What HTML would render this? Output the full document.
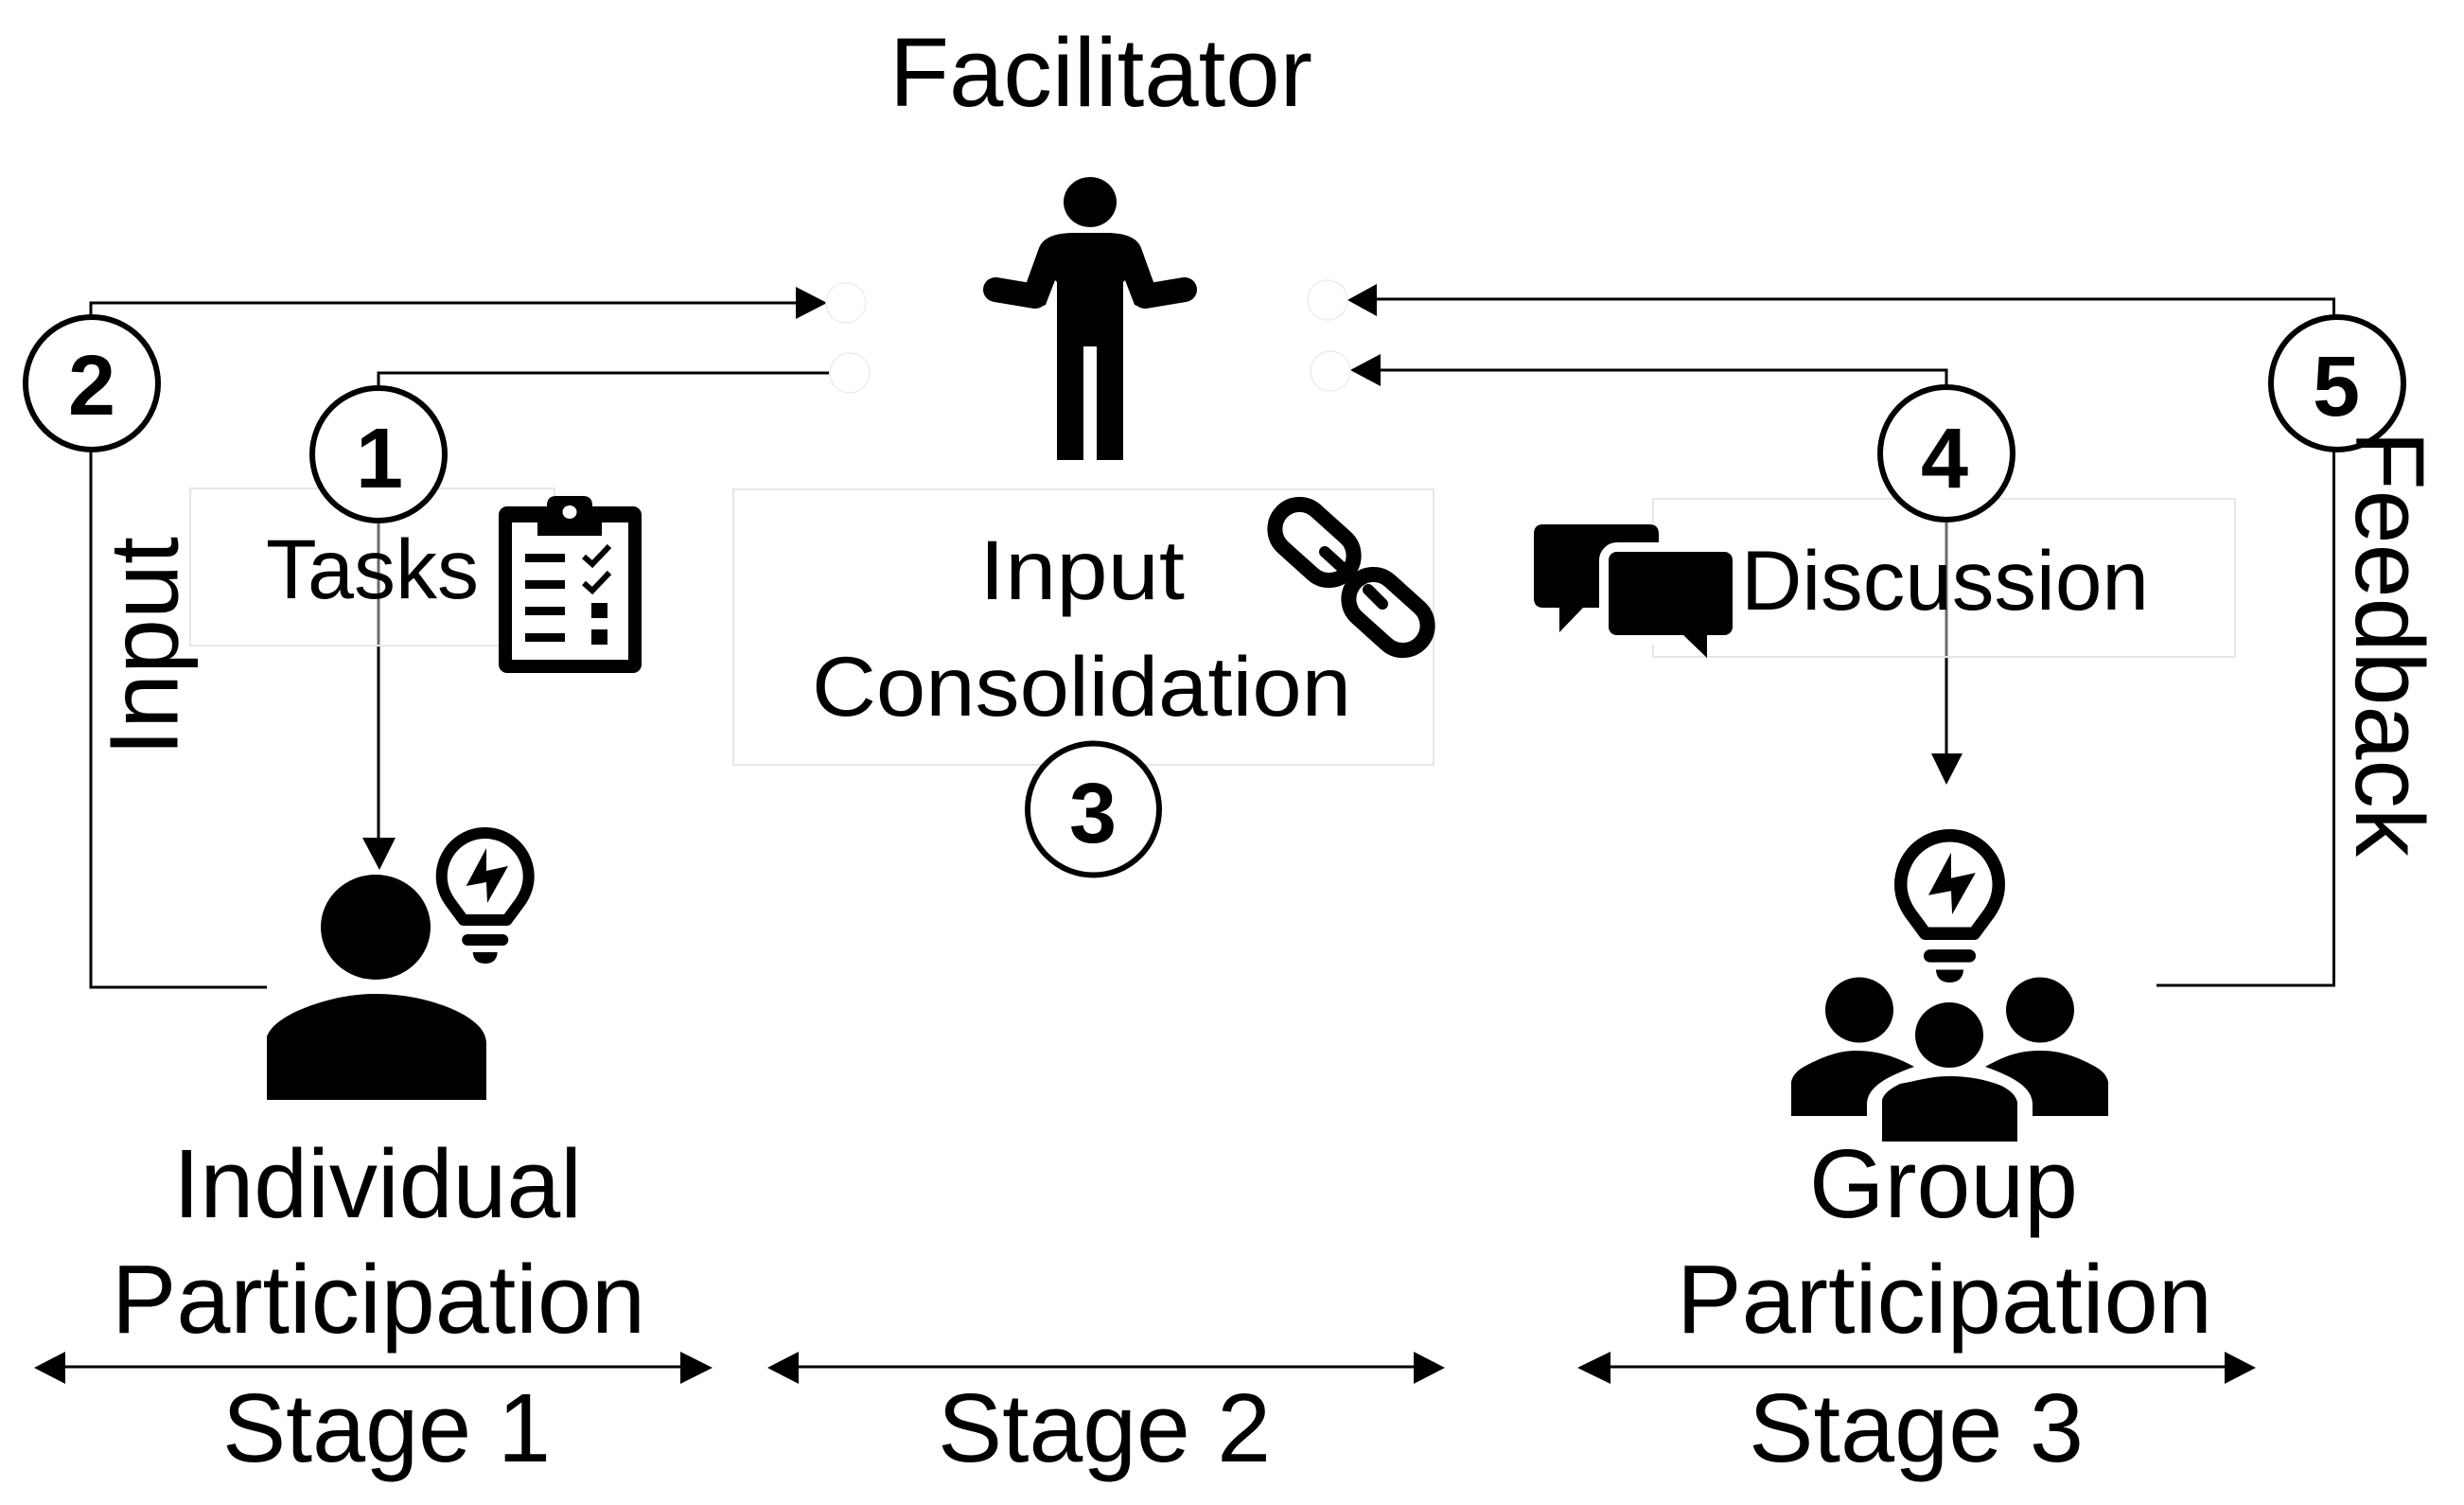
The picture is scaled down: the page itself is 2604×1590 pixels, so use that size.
<!DOCTYPE html>
<html>
<head>
<meta charset="utf-8">
<style>
html,body{margin:0;padding:0;background:#fff;width:2604px;height:1590px;overflow:hidden}
svg{display:block}
text{font-family:"Liberation Sans",sans-serif;fill:#000}
</style>
</head>
<body>
<svg width="2604" height="1590" viewBox="0 0 2604 1590" xmlns="http://www.w3.org/2000/svg">
<defs>
<g id="bulb">
<path d="M-23 46 L-37 27 Q-46 14 -46 0 A46 46 0 1 1 46 0 Q46 14 37 27 L23 46 Z" fill="none" stroke="#000" stroke-width="12" stroke-linejoin="round"/>
<rect x="-24.5" y="61" width="49" height="12" rx="6" fill="#000"/>
<path d="M-13 80 H13 Q12 92 0 92 Q-12 92 -13 80 Z" fill="#000"/>
<path d="M1.3 -30 L-20 10 L1.3 6 L2.3 28 L24.3 -11 L1.3 -6 Z" fill="#000"/>
</g>
</defs>

<!-- connectors -->
<g fill="none" stroke="#000" stroke-width="3">
<path d="M282 1043 H96 V320 H845"/>
<path d="M876 394 H400 V890"/>
<path d="M2279 1041 H2466.5 V316 H1450"/>
<path d="M1455 391 H2057 V800"/>
<path d="M60 1444 H730"/>
<path d="M835 1444 H1500"/>
<path d="M1695 1444 H2360"/>
</g>

<!-- light boxes -->
<g fill="#fff" fill-opacity="0.42" stroke="#e6e6e6" stroke-width="2">
<rect x="201" y="516" width="385" height="166"/>
<rect x="775" y="517" width="740" height="291"/>
<rect x="1747" y="527" width="615" height="167"/>
</g>

<!-- arrowheads -->
<g fill="#000">
<polygon points="841,303 874,320 841,337"/>
<polygon points="1424,317 1455,300 1455,334"/>
<polygon points="1427,391 1459,374 1459,408"/>
<polygon points="383,885 418,885 401,919"/>
<polygon points="2041,796 2074,796 2057,829"/>
<polygon points="36,1445 69,1428 69,1462"/>
<polygon points="753,1445 719,1428 719,1462"/>
<polygon points="811,1445 844,1428 844,1462"/>
<polygon points="1527,1445 1494,1428 1494,1462"/>
<polygon points="1667,1445 1702,1428 1702,1462"/>
<polygon points="2384,1445 2351,1428 2351,1462"/>
</g>

<!-- small faint circles -->
<g fill="#fff" stroke="#ececec" stroke-width="1.5">
<circle cx="894" cy="320" r="21"/>
<circle cx="898" cy="394" r="21"/>
<circle cx="1403" cy="317" r="21"/>
<circle cx="1406" cy="392" r="21"/>
</g>

<!-- facilitator figure -->
<g fill="#000">
<ellipse cx="1152" cy="213.5" rx="28" ry="26.5"/>
<path d="M1098 262 Q1104 246 1135 246 H1169 Q1200 246 1206 262 L1219 298 L1206 325 L1199 322 L1189 296 L1187 298 V486 H1159 V366 H1145 V486 H1117 V298 L1115 296 L1105 322 L1098 325 L1085 298 Z"/>
<path d="M1052 306 L1094 313" stroke="#000" stroke-width="26" stroke-linecap="round" fill="none"/>
<path d="M1252 306 L1210 313" stroke="#000" stroke-width="26" stroke-linecap="round" fill="none"/>
</g>

<!-- clipboard -->
<g>
<rect x="527" y="535" width="151" height="176" rx="9" fill="#000"/>
<rect x="541" y="552" width="123" height="145" fill="#fff"/>
<path d="M568 566 V545 H578 V534 Q578 524 588 524 H616 Q626 524 626 534 V545 H636 V566 Z" fill="#000"/>
<ellipse cx="602" cy="541" rx="7.5" ry="7" fill="#fff"/>
<g fill="#000">
<rect x="555" y="585" width="42" height="9"/>
<rect x="555" y="613" width="42" height="9"/>
<rect x="555" y="641" width="42" height="9"/>
<rect x="555" y="669" width="42" height="9"/>
<rect x="625" y="637" width="17" height="16"/>
<rect x="625" y="665" width="17" height="16"/>
</g>
<path d="M617 588 L626 596 L644 577 M617 616 L626 624 L644 605" fill="none" stroke="#000" stroke-width="6"/>
</g>

<!-- chain -->
<g fill="none" stroke="#000">
<rect x="1342" y="547" width="94" height="52" rx="26" stroke-width="16" transform="rotate(42 1389 573)"/>
<rect x="1420" y="621" width="94" height="52" rx="26" stroke-width="16" transform="rotate(42 1467 647)"/>
<path d="M1400 583 L1422 603" stroke-width="12" stroke-linecap="round"/>
<path d="M1446 623 L1461 638" stroke-width="12" stroke-linecap="round"/>
</g>

<!-- speech bubbles -->
<g>
<path d="M1631 554 H1743 Q1753 554 1753 564 V632 Q1753 642 1743 642 H1673 L1648 668 V642 H1631 Q1621 642 1621 632 V564 Q1621 554 1631 554 Z" fill="#000"/>
<rect x="1700" y="583" width="131" height="88" rx="9" fill="#000" stroke="#fff" stroke-width="20" paint-order="stroke"/>
<path d="M1710 583 H1821 Q1831 583 1831 593 V661 Q1831 671 1821 671 H1804 V695 L1779 671 H1710 Q1700 671 1700 661 V593 Q1700 583 1710 583 Z" fill="#000"/>
</g>

<!-- individual icon -->
<ellipse cx="397" cy="979.5" rx="58" ry="55.5" fill="#000"/>
<path d="M282 1162 V1095 C286 1085 295 1078 310 1070 C340 1056 370 1050 397 1050 C430 1050 465 1058 490 1072 C505 1081 514 1090 514 1103 V1162 Z" fill="#000"/>
<use href="#bulb" transform="translate(512.7 926)"/>

<!-- group icon -->
<use href="#bulb" transform="translate(2060.5 934.5) scale(1.125)"/>
<g fill="#000">
<ellipse cx="1965" cy="1067" rx="36" ry="34.5"/>
<ellipse cx="2156" cy="1067" rx="36" ry="34.5"/>
<ellipse cx="2060" cy="1093.5" rx="36" ry="34.5"/>
<path d="M1893 1179 V1143 C1895 1134 1902 1129 1912 1124 C1930 1115 1945 1110 1962 1110 C1985 1110 2005 1117 2023 1127 C1995 1137 1973 1148 1973 1167 V1179 Z"/>
<path d="M2228 1179 V1143 C2226 1134 2219 1129 2209 1124 C2191 1115 2176 1110 2155 1110 C2132 1110 2116 1117 2098 1127 C2126 1137 2148 1148 2148 1167 V1179 Z"/>
<path d="M1989 1206 V1162 C1991 1155 1998 1150 2008 1145 C2026 1142 2040 1137 2060 1137 C2082 1137 2100 1141 2115 1147 C2125 1152 2131 1158 2132 1165 V1206 Z"/>
</g>

<!-- numbered circles -->
<g fill="#fff" stroke="#000" stroke-width="6">
<circle cx="97" cy="405" r="70"/>
<circle cx="400" cy="480" r="70"/>
<circle cx="1155.5" cy="855" r="69.5"/>
<circle cx="2057" cy="479" r="70"/>
<circle cx="2470" cy="405" r="70"/>
</g>
<g font-size="90" font-weight="700" text-anchor="middle">
<text x="97" y="438">2</text>
<text x="401" y="515">1</text>
<text x="1155" y="890">3</text>
<text x="2055" y="515">4</text>
<text x="2469" y="439">5</text>
</g>

<!-- labels -->
<g font-size="103">
<text x="940" y="112" textLength="447" lengthAdjust="spacingAndGlyphs">Facilitator</text>
<text x="183" y="1286" textLength="432" lengthAdjust="spacingAndGlyphs">Individual</text>
<text x="118" y="1408" textLength="564" lengthAdjust="spacingAndGlyphs">Participation</text>
<text x="1912" y="1286" textLength="284" lengthAdjust="spacingAndGlyphs">Group</text>
<text x="1772" y="1408" textLength="566" lengthAdjust="spacingAndGlyphs">Participation</text>
<text x="235" y="1544" textLength="347" lengthAdjust="spacingAndGlyphs">Stage 1</text>
<text x="991" y="1544" textLength="352" lengthAdjust="spacingAndGlyphs">Stage 2</text>
<text x="1848" y="1544" textLength="354" lengthAdjust="spacingAndGlyphs">Stage 3</text>
<text transform="translate(187.5 799) rotate(-90)" textLength="232" lengthAdjust="spacingAndGlyphs">Input</text>
<text transform="translate(2490 455) rotate(90)" textLength="450" lengthAdjust="spacingAndGlyphs">Feedback</text>
</g>
<g font-size="89">
<text x="281" y="632" textLength="225" lengthAdjust="spacingAndGlyphs">Tasks</text>
<text x="1035" y="633" textLength="217" lengthAdjust="spacingAndGlyphs">Input</text>
<text x="858" y="756" textLength="570" lengthAdjust="spacingAndGlyphs">Consolidation</text>
<text x="1840" y="644" textLength="431" lengthAdjust="spacingAndGlyphs">Discussion</text>
</g>
</svg>
</body>
</html>
